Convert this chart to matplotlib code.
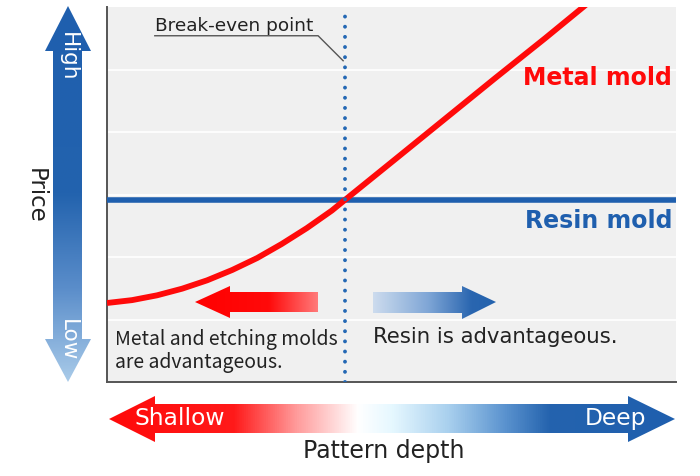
import numpy as np
import matplotlib
matplotlib.use("Agg")
import matplotlib.pyplot as plt
from matplotlib.patches import Polygon
from matplotlib.colors import LinearSegmentedColormap

plt.rcParams['font.family'] = ['DejaVu Sans']
NARROW = ['Noto Sans CJK JP', 'DejaVu Sans']

# Cost curves against pattern depth (arbitrary units)
depth = [0.0, 0.44, 0.88, 1.32, 1.76, 2.20, 2.64, 3.07, 3.51, 3.95, 4.18,
         5.06, 5.94, 6.82, 7.70, 8.37, 8.66]
metal_price = [1.264, 1.310, 1.387, 1.493, 1.627, 1.792, 1.984, 2.208, 2.461,
               2.742, 2.912, 3.56, 4.21, 4.86, 5.50, 6.0, 6.22]
resin_price = 2.91
break_even_depth = 4.18

RED = '#ff0a0a'
BLUE = '#1f5fae'
DOT_BLUE = '#2468b4'
INK = '#222222'
W, H = 700, 477

fig = plt.figure(figsize=(W / 100, H / 100), dpi=100)
ax = fig.add_axes([107 / W, (H - 383) / H, (676 - 107) / W, (383 - 8) / H])
ax.set_facecolor('#f0f0f0')
ax.set_xlim(0, 10)
ax.set_ylim(0, 6)
for s in ('top', 'right'):
    ax.spines[s].set_visible(False)
for s in ('left', 'bottom'):
    ax.spines[s].set_color('#555555')
    ax.spines[s].set_linewidth(1.4)
ax.set_xticks([])
ax.set_yticks([])
for g in range(1, 6):
    ax.axhline(g, color='white', lw=1.2, zorder=1)

ax.axhline(resin_price, color=BLUE, lw=4.0, zorder=3)
ax.plot(depth, metal_price, color=RED, lw=4.2, zorder=4,
        solid_capstyle='butt', solid_joinstyle='round')
ax.axvline(break_even_depth, color=DOT_BLUE, lw=2.8, dash_capstyle='round',
           linestyle=(0, (0.01, 2.6)), zorder=5)

ax.text(9.93, 4.88, 'Metal mold', color=RED, fontsize=17, fontweight='bold',
        ha='right', va='center')
ax.text(9.93, 2.60, 'Resin mold', color=BLUE, fontsize=17, fontweight='bold',
        ha='right', va='center')

# Break-even callout
ax.text(0.84, 5.72, 'Break-even point', color=INK, fontsize=13.3,
        ha='left', va='center')
ax.plot([0.84, 3.71, 4.15], [5.54, 5.54, 5.14], color='#555555', lw=1.0, zorder=6)

ax.text(0.14, 0.69, 'Metal and etching molds', color=INK, fontsize=14,
        family=NARROW, ha='left', va='center')
ax.text(0.14, 0.33, 'are advantageous.', color=INK, fontsize=14,
        family=NARROW, ha='left', va='center')
ax.text(4.67, 0.74, 'Resin is advantageous.', color=INK, fontsize=15.3,
        ha='left', va='center')

# Overlay in pixel coordinates for the gradient arrows
ov = fig.add_axes([0, 0, 1, 1], zorder=2)
ov.patch.set_alpha(0)
ov.axis('off')


def gradient_arrow(verts, stops, vertical=False):
    poly = Polygon(verts, closed=True, facecolor='none', edgecolor='none')
    ov.add_patch(poly)
    xs = [v[0] for v in verts]
    ys = [v[1] for v in verts]
    x0, x1, y0, y1 = min(xs), max(xs), min(ys), max(ys)
    cmap = LinearSegmentedColormap.from_list('g', stops)
    ramp = np.linspace(0, 1, 512)
    arr = ramp[:, None] if vertical else ramp[None, :]
    im = ov.imshow(arr, cmap=cmap, extent=(x0, x1, y1, y0), origin='upper',
                   aspect='auto', interpolation='bilinear')
    im.set_clip_path(poly)


# in-plot direction arrows
gradient_arrow([(195, 303), (230, 287), (230, 293), (318, 293), (318, 313),
                (230, 313), (230, 319)],
               [(0, '#ff0000'), (0.6, '#ff0a0a'), (1, '#ff7a7a')])
gradient_arrow([(373, 293), (462, 293), (462, 287), (496, 303), (462, 320),
                (462, 314), (373, 314)],
               [(0, '#cddcee'), (0.45, '#7fa6d6'), (0.8, '#2a66b0'), (1, '#2463ae')])

# depth axis arrow
gradient_arrow([(109, 420), (155, 397), (155, 405), (628, 405), (628, 397),
                (675, 420), (628, 443), (628, 434), (155, 434), (155, 443)],
               [(0, '#ff0a0a'), (0.22, '#ff1a1a'), (0.33, '#ff9a9a'),
                (0.44, '#ffffff'), (0.50, '#e6f8ff'), (0.60, '#a9d0ee'),
                (0.70, '#5b93cf'), (0.78, '#2463ae'), (1, '#1f5fae')])

# price axis arrow
gradient_arrow([(68, 7), (91, 52), (82, 52), (82, 340), (91, 340), (68, 383),
                (45, 340), (53, 340), (53, 52), (45, 52)],
               [(0, '#1f5fae'), (0.5, '#2363ae'), (0.75, '#5a8dca'),
                (1, '#a9cbe9')], vertical=True)

ov.text(135, 419, 'Shallow', color='white', fontsize=16.8, ha='left', va='center')
ov.text(646, 419, 'Deep', color='white', fontsize=16.8, ha='right', va='center')
ov.text(384, 451, 'Pattern depth', color=INK, fontsize=17, ha='center', va='center')
ov.text(68, 57, 'High', color='white', fontsize=15.5, rotation=270,
        ha='center', va='center')
ov.text(68, 340, 'Low', color='white', fontsize=15.5, rotation=270,
        ha='center', va='center')
ov.text(35, 196, 'Price', color=INK, fontsize=16.5, rotation=270,
        ha='center', va='center')

ov.set_xlim(0, W)
ov.set_ylim(H, 0)

fig.savefig('out.png', dpi=100)
